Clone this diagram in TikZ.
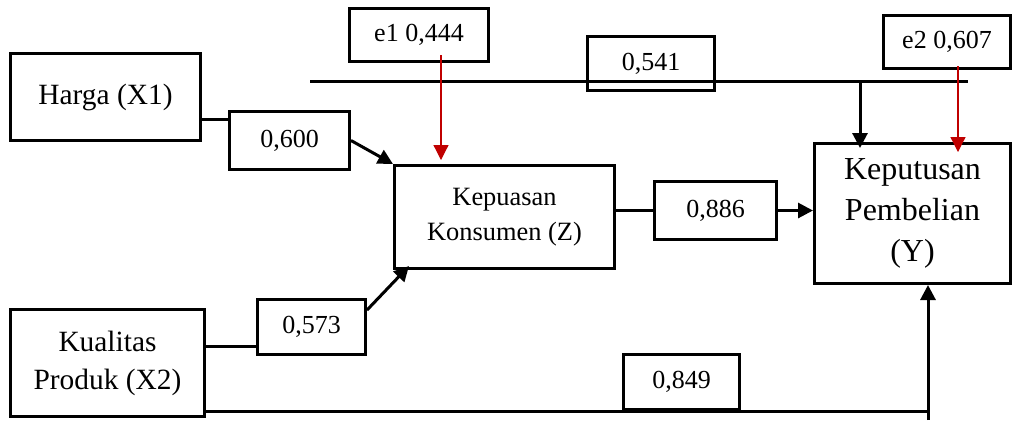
\documentclass[tikz,border=0pt]{standalone}
\usepackage{fontspec}
\setmainfont{Liberation Serif}
\usetikzlibrary{arrows.meta}
\definecolor{errred}{RGB}{192,0,0}
\begin{document}
\begin{tikzpicture}[x=0.5pt,y=-0.5pt,
  box/.style={draw,line width=1.5pt,inner sep=0pt,align=center},
  coef/.style={box,font=\fontsize{13}{15.6}\selectfont},
  link/.style={line width=1.5pt},
  arr/.style={link,-{Triangle[length=7.5pt,width=7.5pt]}},
  err/.style={errred,line width=0.6pt,-{Triangle[length=7.5pt,width=7.5pt]}}]
\useasboundingbox (0,0) rectangle (1014,420);
\node[box,minimum width=95pt,minimum height=43.5pt,font=\fontsize{14.7}{19}\selectfont] (harga) at (105.5,97) {Harga (X1)};
\node[box,minimum width=97pt,minimum height=53.5pt,font=\fontsize{14.7}{19}\selectfont] (kx2) at (107.5,363) {Kualitas\\Produk (X2)};
\node[box,minimum width=110pt,minimum height=51.5pt,font=\fontsize{13.2}{17.5}\selectfont] (kz) at (504.5,217) {Kepuasan\\Konsumen (Z)};
\node[box,minimum width=98pt,minimum height=70pt,font=\fontsize{16}{20.5}\selectfont] (ky) at (912.5,213.5) {Keputusan\\Pembelian\\(Y)};
\node[coef,minimum width=60pt,minimum height=29pt] (b600) at (289.5,140.5) {0,600};
\node[coef,minimum width=54pt,minimum height=27.5pt] (b573) at (311.5,327) {0,573};
\node[coef,minimum width=61pt,minimum height=29pt] (b886) at (715.5,210.5) {0,886};
\node[coef,minimum width=58pt,minimum height=27.5pt] (b849) at (681.5,382) {0,849};
\node[coef,minimum width=69.5pt,minimum height=26.5pt] (e1) at (419,35) {e1 0,444};
\node[coef,minimum width=63.5pt,minimum height=26.5pt] (e2) at (947,42) {e2 0,607};
\coordinate (l541) at (310,81);
\coordinate (r541) at (968,81);
\coordinate (bot) at (928,420);
\draw[link] (l541) -- (r541);
\node[coef,minimum width=63.5pt,minimum height=27pt] (b541) at (651,63.5) {0,541};
\draw[link] ([yshift=-11pt]harga.east) -- ([yshift=-11pt]harga.east -| b600.west);
\draw[arr] (b600.east) -- (kz.north west);
\draw[link] ([yshift=8.5pt]kx2.east) -- ([yshift=8.5pt]kx2.east -| b573.west);
\draw[arr] (b573.17) -- ([xshift=8pt,yshift=2pt]kz.south west);
\draw[link] (b886.west -| kz.east) -- (b886.west);
\draw[arr] (b886.east) -- (b886.east -| ky.west);
\draw[arr] ([xshift=23.5pt]ky.north west |- r541) -- ([xshift=23.5pt,yshift=-3pt]ky.north west);
\draw[link] ([yshift=3.5pt]kx2.south east) -- ([yshift=3.5pt]kx2.south east -| bot);
\draw[arr] (bot) -- (bot |- ky.south);
\draw[err] ([xshift=11pt,yshift=4pt]e1.south) -- ([xshift=11pt,yshift=2pt]e1.south |- kz.north);
\draw[err] ([xshift=5.5pt,yshift=2pt]e2.south) -- ([xshift=5.5pt,yshift=-5pt]e2.south |- ky.north);
\end{tikzpicture}
\end{document}
